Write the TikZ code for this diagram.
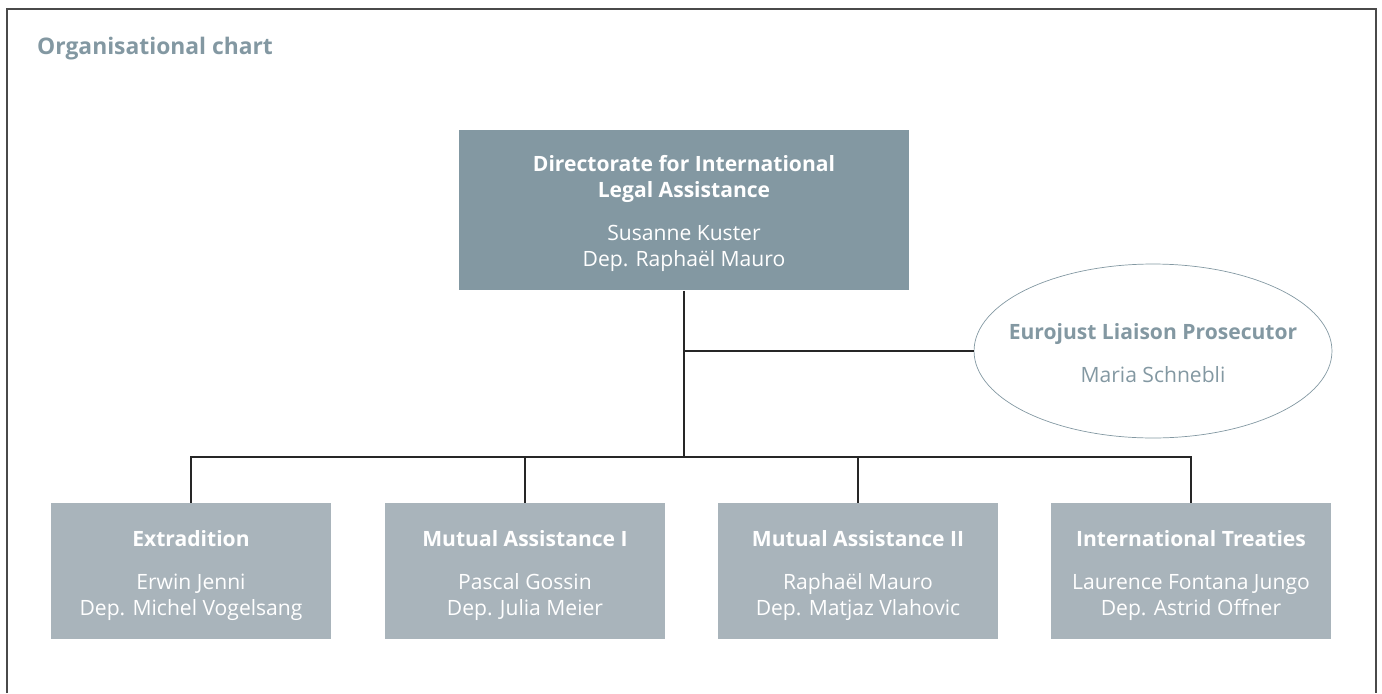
\documentclass[tikz,border=0pt]{standalone}
\usepackage{fontspec}
\setmainfont{Open Sans}
\usepackage{xcolor}
\usepackage{tikz}
\usetikzlibrary{shapes.geometric,positioning}
\definecolor{headcolor}{RGB}{131,152,162}
\definecolor{unitcolor}{RGB}{169,180,187}
\definecolor{framecolor}{RGB}{74,74,74}
% lowered block: heading, gap, names
\newcommand{\orgtext}[3][0pt]{\raisebox{-#1}[\height][\depth]{\begin{tabular}{@{}c@{}}#2\\[9.7pt]#3\end{tabular}}}

\begin{document}
\begin{tikzpicture}[
    x=0.02cm, y=-0.02cm,
    font=\fontsize{12}{14.8}\selectfont,
    % Box style for the directorate
    headbox/.style={rectangle, fill=headcolor, text=white, minimum width=9cm, minimum height=3.22cm, inner sep=0pt},
    % Box style for the divisions
    unitbox/.style={rectangle, fill=unitcolor, text=white, minimum width=5.6cm, minimum height=2.72cm, inner sep=0pt},
    % Ellipse for the liaison post
    liaison/.style={ellipse, draw=headcolor, text=headcolor, minimum width=7.16cm, minimum height=3.48cm, inner xsep=-0.6cm, inner ysep=0pt},
    link/.style={draw=black!85, line width=0.8pt}
]
    \useasboundingbox (0,0) rectangle (1382,693);

    % --- FRAME ---
    \draw[framecolor, line width=1.1pt] (7,693) -- (7,9) -- (1376,9) -- (1376,693);

    % --- TITLE ---
    \node[anchor=west, text=headcolor, font=\fontsize{13}{15}\selectfont\bfseries] (title) at (31,49) {Organisational chart};

    % --- DIRECTORATE ---
    \node[headbox] (dir) at (684,210) {\orgtext[2.2pt]{\textbf{Directorate for International}\\\textbf{Legal Assistance}}{Susanne Kuster\\Dep. Raphaël Mauro}};

    % --- EUROJUST ---
    \node[liaison] (ejl) at (1153,351) {\orgtext[2.6pt]{\textbf{Eurojust Liaison Prosecutor}}{Maria Schnebli}};

    % --- DIVISIONS ---
    \node[unitbox] (ext) at (191,571) {\orgtext[2.6pt]{\textbf{Extradition}}{Erwin Jenni\\Dep. Michel Vogelsang}};
    \node[unitbox] (mut1) at (525,571) {\orgtext[2.6pt]{\textbf{Mutual Assistance I}}{Pascal Gossin\\Dep. Julia Meier}};
    \node[unitbox] (mut2) at (858,571) {\orgtext[2.6pt]{\textbf{Mutual Assistance II}}{Raphaël Mauro\\Dep. Matjaz Vlahovic}};
    \node[unitbox] (trt) at (1191,571) {\orgtext[2.6pt]{\textbf{International Treaties}}{Laurence Fontana Jungo\\Dep. Astrid Offner}};

    % --- CONNECTORS ---
    \coordinate (bus) at (684,457);
    \draw[link] (dir.south) -- (bus);
    \draw[link] (dir.south |- ejl.west) -- (ejl.west);
    \draw[link] (ext.north) |- (bus) -| (trt.north);
    \draw[link] (mut1.north) -- (mut1.north |- bus);
    \draw[link] (mut2.north) -- (mut2.north |- bus);

\end{tikzpicture}
\end{document}
